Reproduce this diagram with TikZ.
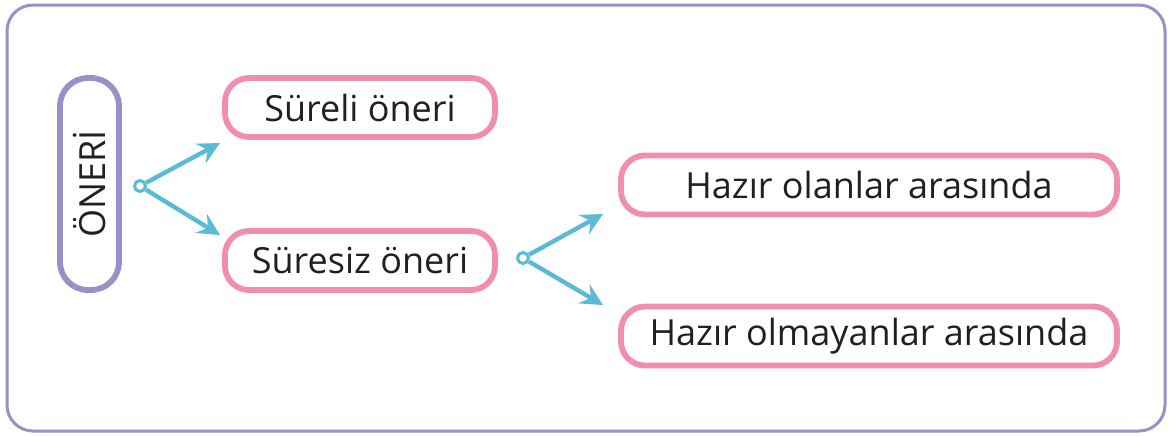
\documentclass[tikz,border=0pt]{standalone}
\usepackage{fontspec}
\setmainfont{Open Sans}
\usepackage{tikz}
\usetikzlibrary{arrows.meta,positioning}

\definecolor{framepurple}{HTML}{9D8EC7}
\definecolor{boxpink}{HTML}{F28DB2}
\definecolor{arrowblue}{HTML}{5BBAD6}
\definecolor{textdark}{HTML}{231F20}

\begin{document}
\begin{tikzpicture}[
  x=0.5pt,y=-0.5pt,
  font=\fontsize{18}{21}\selectfont,text=textdark,
  frame/.style={draw=framepurple,line width=1.5pt,rounded corners=13pt},
  rootbox/.style={draw=framepurple,line width=2.9pt,rounded corners=14pt,
    minimum width=29.5pt,minimum height=106pt,inner sep=0pt},
  choice/.style={draw=boxpink,line width=2.9pt,rounded corners=12pt,
    minimum height=29.5pt,inner sep=0pt},
  fork/.style={circle,draw=arrowblue,fill=white,line width=1.5pt,
    minimum size=5.5pt,inner sep=0pt},
  branch/.style={draw=arrowblue,line width=2.2pt,
    -{Stealth[length=11pt,width=11pt,inset=4pt]}}
  ]

  \useasboundingbox (0,0) rectangle (1172,436);
  \draw[frame] (7,5) rectangle (1165,431);

  \node[rootbox] (oneri) at (89.5,184) {};
  \node[rotate=90] at (oneri.center) {ÖNERİ};

  \node[choice,minimum width=135pt] (sureli)  at (360,107.5) {Süreli öneri};
  \node[choice,minimum width=135pt] (suresiz) at (360,260.5) {Süresiz öneri};
  \node[choice,minimum width=248pt] (olan)    at (869,185)   {Hazır olanlar arasında};
  \node[choice,minimum width=248pt] (olmayan) at (869,336)   {Hazır olmayanlar arasında};

  \node[fork] (fork1) at (140,186) {};
  \node[fork] (fork2) at (523,258) {};

  \coordinate (tip1) at (220,143);
  \coordinate (tip2) at (220,235);
  \coordinate (tip3) at (603,214);
  \coordinate (tip4) at (603,305);

  \draw[branch] (fork1) -- (tip1);
  \draw[branch] (fork1) -- (tip2);
  \draw[branch] (fork2) -- (tip3);
  \draw[branch] (fork2) -- (tip4);
\end{tikzpicture}
\end{document}
